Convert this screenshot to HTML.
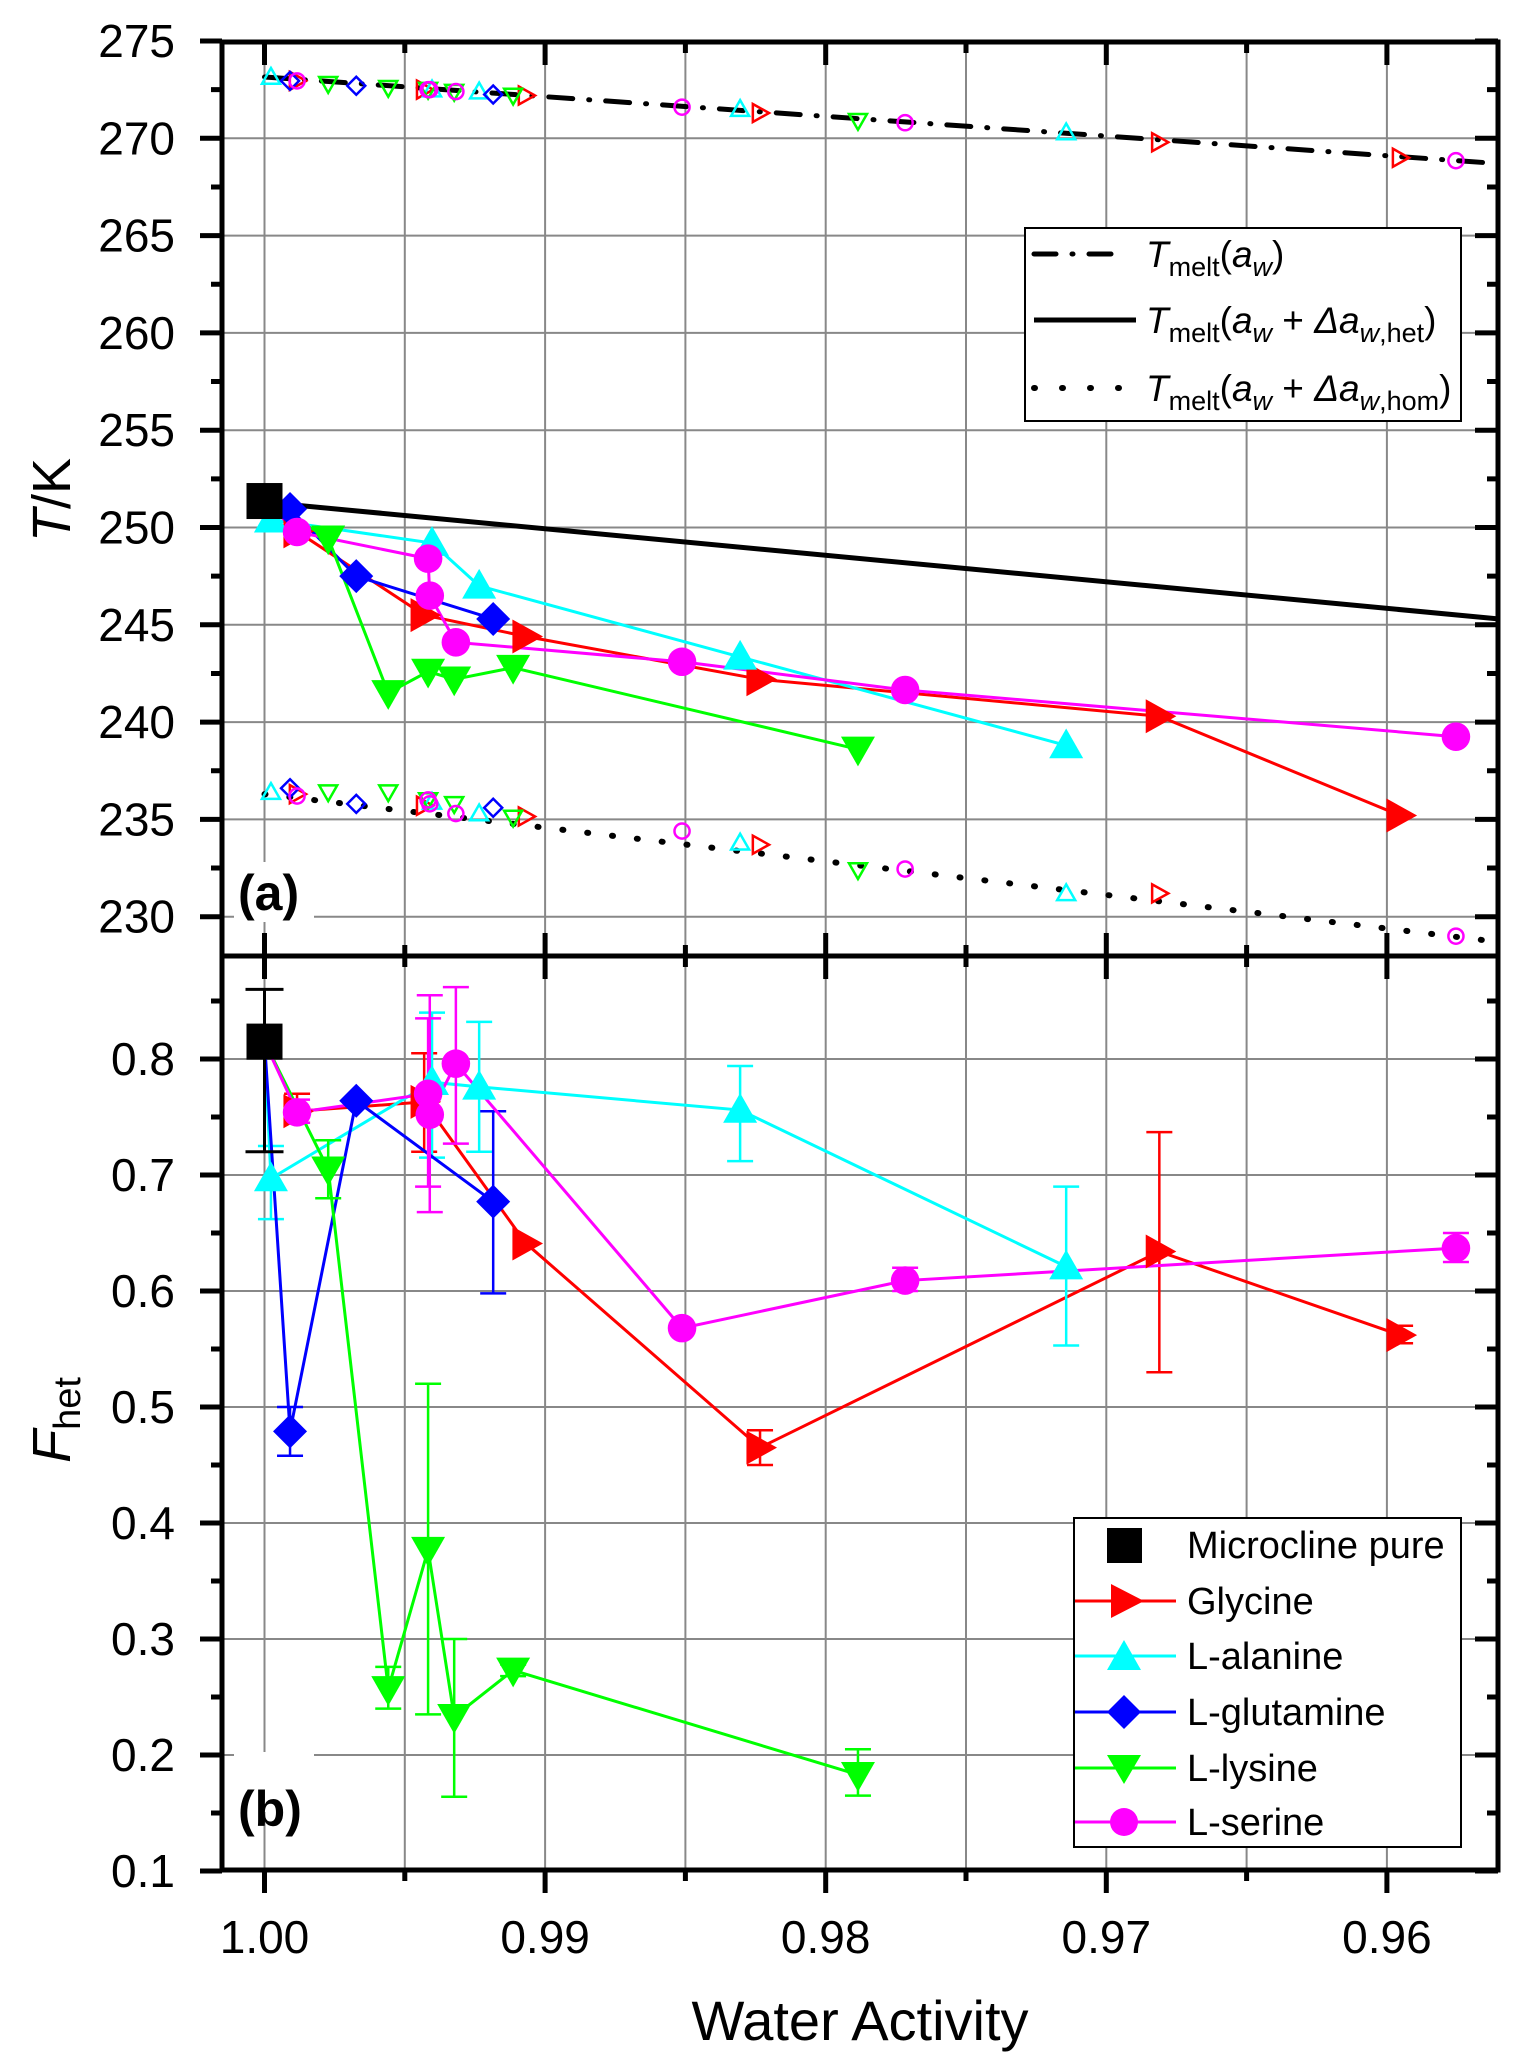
<!DOCTYPE html>
<html><head><meta charset="utf-8"><style>
html,body{margin:0;padding:0;background:#fff}
svg{display:block;font-family:"Liberation Sans",sans-serif}
</style></head><body>
<svg id="chart" width="1520" height="2070" xmlns="http://www.w3.org/2000/svg">
<g id="grid"></g>
<g id="lines"></g>
<g id="series"></g>
<g id="axes"></g>
<g id="legends"></g>
</svg>
<script>
// ---- data ----
const xTicks=[1.00,0.99,0.98,0.97,0.96];
const xTickLabels=["1.00","0.99","0.98","0.97","0.96"];
const yTopTicks=[230,235,240,245,250,255,260,265,270,275];
const yBotTicks=[0.1,0.2,0.3,0.4,0.5,0.6,0.7,0.8];
const yBotTickLabels=["0.1","0.2","0.3","0.4","0.5","0.6","0.7","0.8"];
const meltLineAw=[1.0,0.956]; const meltLineT=[273.15,268.7];
const hetLineAw=[1.0,0.956]; const hetLineT=[251.3,245.3];
const homLineAw=[1.0,0.956]; const homLineT=[236.3,228.7];
const pureAw=[1.0]; const pureT=[251.36]; const pureF=[0.815]; const pureFlo=[0.72]; const pureFhi=[0.86];

const glyAw=[0.99884,0.99431,0.99068,0.98234,0.96811,0.95953];
const glyT=[249.8,245.5,244.4,242.2,240.3,235.2];
const glyF=[0.755,0.763,0.641,0.465,0.634,0.562];
const glyFlo=[0.745,0.72,0.64,0.45,0.53,0.555];
const glyFhi=[0.77,0.805,0.642,0.48,0.737,0.57];
const glyMelt=[272.95,272.5,272.2,271.3,269.8,269.0];
const glyHom=[236.3,235.7,235.15,233.7,231.2,228.4];

const alaAw=[0.99977,0.99403,0.99235,0.98305,0.97143];
const alaT=[250.4,249.2,247.0,243.35,238.8];
const alaF=[0.697,0.78,0.776,0.756,0.621];
const alaFlo=[0.662,0.715,0.72,0.712,0.553];
const alaFhi=[0.725,0.84,0.832,0.794,0.69];
const alaMelt=[273.15,272.5,272.4,271.5,270.3];
const alaHom=[236.4,235.9,235.3,233.8,231.2];

const gluAw=[0.99909,0.99673,0.99185];
const gluT=[250.95,247.5,245.3];
const gluF=[0.479,0.764,0.677];
const gluFlo=[0.458,0.764,0.598];
const gluFhi=[0.5,0.764,0.755];
const gluMelt=[272.95,272.7,272.25];
const gluHom=[236.6,235.8,235.6];

const lysAw=[0.99773,0.99559,0.99417,0.99324,0.99114,0.97885];
const lysT=[249.45,241.5,242.6,242.2,242.8,238.6];
const lysF=[0.705,0.257,0.377,0.233,0.273,0.183];
const lysFlo=[0.68,0.24,0.235,0.164,0.268,0.165];
const lysFhi=[0.73,0.276,0.52,0.30,0.278,0.205];
const lysMelt=[272.8,272.6,272.5,272.4,272.2,270.9];
const lysHom=[236.4,236.4,236.0,235.8,235.1,232.4];

const serAw=[0.99884,0.99417,0.99411,0.99318,0.98512,0.97717,0.95754];
const serT=[249.77,248.4,246.5,244.1,243.1,241.65,239.25];
const serF=[0.754,0.77,0.752,0.796,0.568,0.609,0.637];
const serFlo=[0.745,0.69,0.668,0.727,0.568,0.6,0.625];
const serFhi=[0.765,0.835,0.855,0.862,0.568,0.62,0.65];
const serMelt=[272.95,272.5,272.5,272.4,271.6,270.8,268.85];
const serHom=[236.2,236.0,235.8,235.3,234.4,232.45,229.0];

// ---- geometry ----
const L=222,R=1498,TOP=42,DIV=956,BOT=1870;
const X=a=>264.5+(1-a)*28060;
const Ya=t=>41+(275-t)*19.46;
const Yb=f=>1059+(0.8-f)*1160;
const NS="http://www.w3.org/2000/svg";
function mk(tag,attrs,parent){const e=document.createElementNS(NS,tag);for(const k in attrs)e.setAttribute(k,attrs[k]);parent.appendChild(e);return e;}
const G=id=>document.getElementById(id);

// grid
const grid=G('grid');
for(let a=1.0;a>0.9559;a-=0.005){
  const gl=mk('line',{x1:X(a),x2:X(a),y1:TOP,y2:BOT,stroke:'#888','stroke-width':2},grid);
  
  
}
yTopTicks.forEach(t=>{const gl=mk('line',{x1:L,x2:R,y1:Ya(t),y2:Ya(t),stroke:'#888','stroke-width':2},grid);
  
  });
yBotTicks.forEach(t=>{const gl=mk('line',{x1:L,x2:R,y1:Yb(t),y2:Yb(t),stroke:'#888','stroke-width':2},grid);
  
  });

const defs=mk('defs',{},G('chart'));
const c1=mk('clipPath',{id:'clipA'},defs);mk('rect',{x:L,y:TOP,width:R-L,height:DIV-TOP},c1);

const lblA=mk('rect',{x:234,y:862,width:80,height:60,fill:'#fff'},grid);


const lblB=mk('rect',{x:234,y:1752,width:80,height:60,fill:'#fff'},grid);



// reference lines
const lines=G('lines');
function refLine(aw,t,dash,w,name){const l=mk('line',{x1:X(aw[0]),y1:Ya(t[0]),x2:X(aw[1]),y2:Ya(t[1]),stroke:'#000','stroke-width':w,'stroke-dasharray':dash,'stroke-linecap':'round','clip-path':'url(#clipA)'},lines);
  
  }
refLine(meltLineAw,meltLineT,'24 16 1 16',5,'melt-line');
refLine(hetLineAw,hetLineT,'none',5,'het-line');
refLine(homLineAw,homLineT,'1 24',6,'hom-line');

function marker(shape,cx,cy,s,color,filled,parent){
  const fill=filled?color:'none',st=filled?'none':color,sw=filled?0:2.5;let e;
  if(shape==='square')e=mk('rect',{x:cx-s/2,y:cy-s/2,width:s,height:s,fill},parent);
  else if(shape==='circle')e=mk('circle',{cx,cy,r:s*0.42,fill,stroke:st,'stroke-width':sw},parent);
  else{let p;const h=s/2;
    if(shape==='right')p=[[cx-h*0.8,cy-h],[cx+h,cy],[cx-h*0.8,cy+h]];
    if(shape==='up')p=[[cx,cy-h],[cx+h,cy+h*0.75],[cx-h,cy+h*0.75]];
    if(shape==='down')p=[[cx,cy+h],[cx+h,cy-h*0.75],[cx-h,cy-h*0.75]];
    if(shape==='diamond')p=[[cx,cy-h],[cx+h,cy],[cx,cy+h],[cx-h,cy]];
    e=mk('polygon',{points:p.map(q=>q.join(',')).join(' '),fill,stroke:st,'stroke-width':sw},parent);}
  return e;
}
const series=G('series');
const list=[
 ['glycine','#ff0000','right',glyAw,glyT,glyF,glyFlo,glyFhi,glyMelt,glyHom],
 ['l-alanine','#00ffff','up',alaAw,alaT,alaF,alaFlo,alaFhi,alaMelt,alaHom],
 ['l-glutamine','#0000ff','diamond',gluAw,gluT,gluF,gluFlo,gluFhi,gluMelt,gluHom],
 ['l-lysine','#00ff00','down',lysAw,lysT,lysF,lysFlo,lysFhi,lysMelt,lysHom],
 ['l-serine','#ff00ff','circle',serAw,serT,serF,serFlo,serFhi,serMelt,serHom]];
list.forEach(([n,c,sh,aw,T,F,lo,hi,melt,hom])=>{
  const g=mk('g',{},series);
  aw.forEach((a,i)=>{const m1=marker(sh,X(a),Ya(melt[i]),18,c,false,g);
    
    
    if(hom[i]>=228.8){const m2=marker(sh,X(a),Ya(hom[i]),18,c,false,g);
    
    }});
});
list.forEach(([n,c,sh,aw,T,F,lo,hi])=>{
  const g=mk('g',{},series);
  const pa=[[X(pureAw[0]),Ya(pureT[0])]].concat(aw.map((a,i)=>[X(a),Ya(T[i])]));
  const l1=mk('polyline',{points:pa.map(p=>p.join(',')).join(' '),fill:'none',stroke:c,'stroke-width':3},g);
  
  
  const pb=[[X(pureAw[0]),Yb(pureF[0])]].concat(aw.map((a,i)=>[X(a),Yb(F[i])]));
  const l2=mk('polyline',{points:pb.map(p=>p.join(',')).join(' '),fill:'none',stroke:c,'stroke-width':3},g);
  
  
  aw.forEach((a,i)=>{if(hi[i]-lo[i]>0.004){const x=X(a);
    const eb=mk('path',{d:`M${x},${Yb(lo[i])}V${Yb(hi[i])}M${x-13},${Yb(lo[i])}h26M${x-13},${Yb(hi[i])}h26`,stroke:c,'stroke-width':2.5,fill:'none'},g);
    
    }});
});
{const x=X(pureAw[0]);const eb=mk('path',{d:`M${x},${Yb(pureFlo[0])}V${Yb(pureFhi[0])}M${x-19},${Yb(pureFlo[0])}h38M${x-19},${Yb(pureFhi[0])}h38`,stroke:'#000','stroke-width':3,fill:'none'},series);

}
list.forEach(([n,c,sh,aw,T,F])=>{
  aw.forEach((a,i)=>{const m1=marker(sh,X(a),Ya(T[i]),34,c,true,series);
    
    
    const m2=marker(sh,X(a),Yb(F[i]),34,c,true,series);
    
    });
});
{const m=marker('square',X(pureAw[0]),Ya(pureT[0]),36,'#000',true,series);


const m2=marker('square',X(pureAw[0]),Yb(pureF[0]),36,'#000',true,series);

}

// axes
const ax=G('axes');
const frame=mk('path',{d:`M${L},${TOP}H${R}V${BOT}H${L}ZM${L},${DIV}H${R}`,fill:'none',stroke:'#000','stroke-width':5},ax);


let td='';
for(let k=0;k<=8;k++){const a=1-k*0.005;const x=X(a);const maj=k%2===0;const len=maj?23:11;
  td+=`M${x},${BOT}v${len}M${x},${TOP}v${len}M${x},${DIV-len}v${2*len}`;}
yTopTicks.forEach(t=>{const y=Ya(t);td+=`M${L-22},${y}h22M${R-23},${y}h23`;});
yTopTicks.slice(0,-1).forEach(t=>{const y=Ya(t+2.5);td+=`M${L-11},${y}h11M${R-11},${y}h11`;});
yBotTicks.forEach(t=>{const y=Yb(t);td+=`M${L-22},${y}h22M${R-23},${y}h23`;});
yBotTicks.forEach(t=>{const y=Yb(t+0.05);if(y>DIV+5)td+=`M${L-11},${y}h11M${R-11},${y}h11`;});
const ticks=mk('path',{d:td,stroke:'#000','stroke-width':5,fill:'none'},ax);


xTicks.forEach((a,i)=>{const t=mk('text',{x:X(a),y:1953,'font-size':46,'text-anchor':'middle'},ax);t.textContent=xTickLabels[i];
  
  });
yTopTicks.forEach(v=>{const t=mk('text',{x:175,y:Ya(v)+16,'font-size':46,'text-anchor':'end'},ax);t.textContent=String(v);
  
  });
yBotTicks.forEach((v,i)=>{const t=mk('text',{x:175,y:Yb(v)+16,'font-size':46,'text-anchor':'end'},ax);t.textContent=yBotTickLabels[i];
  
  });
</script>
<svg style="position:absolute;left:0;top:0" width="1520" height="2070" xmlns="http://www.w3.org/2000/svg" font-family="Liberation Sans, sans-serif">
<text x="238" y="910" font-size="50" font-weight="bold">(a)</text>
<text x="238" y="1826" font-size="50" font-weight="bold">(b)</text>
<text x="860" y="2040" font-size="56" text-anchor="middle">Water Activity</text>
<text transform="translate(70,500) rotate(-90)" font-size="54" text-anchor="middle"><tspan font-style="italic">T</tspan>/K</text>
<text transform="translate(70,1420) rotate(-90)" font-size="54" text-anchor="middle"><tspan font-style="italic">F</tspan><tspan font-size="38" dy="10">het</tspan></text>
<g>
<rect x="1025" y="228" width="436" height="193" fill="#fff" stroke="#000" stroke-width="2"/>
<line x1="1034" y1="254" x2="1124" y2="254" stroke="#000" stroke-width="5" stroke-dasharray="22 16 1 16" stroke-linecap="round"/>
<line x1="1034" y1="320" x2="1136" y2="320" stroke="#000" stroke-width="5"/>
<line x1="1034" y1="388" x2="1136" y2="388" stroke="#000" stroke-width="6" stroke-dasharray="1 27" stroke-linecap="round"/>
<text x="1146" y="267" font-size="37"><tspan font-style="italic">T</tspan><tspan font-size="27" dy="9">melt</tspan><tspan dy="-9">(</tspan><tspan font-style="italic">a</tspan><tspan font-size="27" dy="9" font-style="italic">w</tspan><tspan dy="-9">)</tspan></text>
<text x="1146" y="333" font-size="37"><tspan font-style="italic">T</tspan><tspan font-size="27" dy="9">melt</tspan><tspan dy="-9">(</tspan><tspan font-style="italic">a</tspan><tspan font-size="27" dy="9" font-style="italic">w</tspan><tspan dy="-9"> + </tspan><tspan font-style="italic">Δa</tspan><tspan font-size="27" dy="9"><tspan font-style="italic">w</tspan>,het</tspan><tspan dy="-9">)</tspan></text>
<text x="1146" y="401" font-size="37"><tspan font-style="italic">T</tspan><tspan font-size="27" dy="9">melt</tspan><tspan dy="-9">(</tspan><tspan font-style="italic">a</tspan><tspan font-size="27" dy="9" font-style="italic">w</tspan><tspan dy="-9"> + </tspan><tspan font-style="italic">Δa</tspan><tspan font-size="27" dy="9"><tspan font-style="italic">w</tspan>,hom</tspan><tspan dy="-9">)</tspan></text>
</g>
<g font-size="38">
<rect x="1074" y="1518" width="387" height="329" fill="#fff" stroke="#000" stroke-width="2"/>
<rect x="1107" y="1528" width="35" height="35" fill="#000"/>
<text x="1187" y="1558">Microcline pure</text>
<line x1="1075" y1="1601" x2="1176" y2="1601" stroke="#f00" stroke-width="3"/><polygon points="1111,1584 1144,1601 1111,1618" fill="#f00"/>
<text x="1187" y="1614">Glycine</text>
<line x1="1075" y1="1656" x2="1176" y2="1656" stroke="#0ff" stroke-width="3"/><polygon points="1124,1640 1141,1670 1107,1670" fill="#0ff"/>
<text x="1187" y="1669">L-alanine</text>
<line x1="1075" y1="1712" x2="1176" y2="1712" stroke="#00f" stroke-width="3"/><polygon points="1124,1695 1141,1712 1124,1729 1107,1712" fill="#00f"/>
<text x="1187" y="1725">L-glutamine</text>
<line x1="1075" y1="1768" x2="1176" y2="1768" stroke="#0f0" stroke-width="3"/><polygon points="1107,1755 1141,1755 1124,1784" fill="#0f0"/>
<text x="1187" y="1781">L-lysine</text>
<line x1="1075" y1="1822" x2="1176" y2="1822" stroke="#f0f" stroke-width="3"/><circle cx="1124" cy="1822" r="14" fill="#f0f"/>
<text x="1187" y="1835">L-serine</text>
</g>
</svg>
</body></html>
